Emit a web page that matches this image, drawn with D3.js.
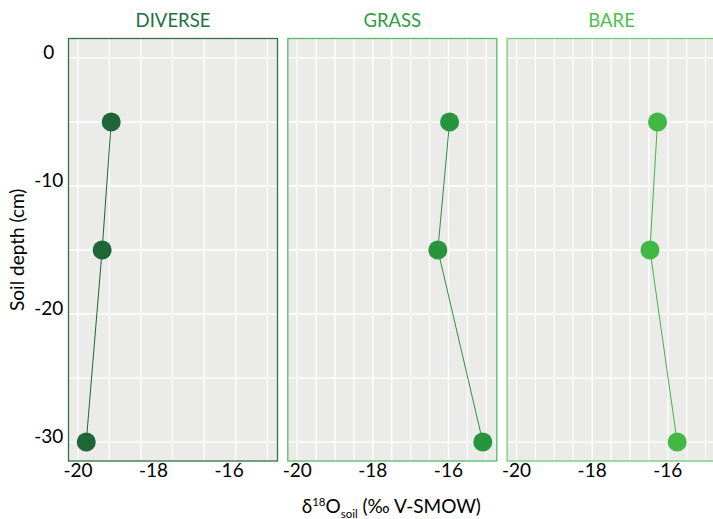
<!DOCTYPE html>
<html>
<head>
<meta charset="utf-8">
<script src="https://cdn.jsdelivr.net/npm/d3@7"></script>
<style>
  html, body { margin: 0; padding: 0; background: #ffffff; }
  svg { display: block; font-family: Lato, "Open Sans", sans-serif; }
</style>
</head>
<body>
<svg id="chart" width="713" height="519"></svg>
<script>
// ---- data ----
const categories = ["DIVERSE", "GRASS", "BARE"];
const depths = [-5, -15, -30];
const diverseValues = [-19.12, -19.36, -19.78];
const grassValues = [-15.97, -16.28, -15.09];
const bareValues = [-16.27, -16.47, -15.75];
const xTickValues = [-20, -18, -16];
const yTickValues = [0, -10, -20, -30];
const yGridValues = [0, -5, -10, -15, -20, -25, -30];
const xGridDiverse = [-20, -19.17, -18.33, -17.5, -16.66, -15.82, -14.99];
const xGridOther = [-20, -19.5, -19, -18.5, -18, -17.5, -17, -16.5, -16, -15.5, -15];
const xDomain = [-20.25, -14.72];
const yDomain = [1.52, -31.48];

// ---- styling ----
const pointColors = ["#1e6538", "#26953e", "#40b843"];
const titleColors = ["#23703f", "#2f9c45", "#4cbf4c"];
const borderColors = ["#2f7448", "#5cb864", "#74cb74"];
const panelBg = "#ebebea";

const svg = d3.select("#chart");
const panelLeft0 = 68.5, panelW = 209, panelGap = 10.3;
const panelTop = 38.5, panelBottom = 461;

const y = d3.scaleLinear().domain(yDomain).range([panelTop, panelBottom]);

const seriesList = [diverseValues, grassValues, bareValues];
const gridLists = [xGridDiverse, xGridOther, xGridOther];

categories.forEach((cat, i) => {
  const x0 = panelLeft0 + i * (panelW + panelGap);
  const x = d3.scaleLinear().domain(xDomain).range([x0, x0 + panelW]);
  const g = svg.append("g");

  g.append("rect")
    .attr("x", x0).attr("y", panelTop)
    .attr("width", panelW).attr("height", panelBottom - panelTop)
    .attr("fill", panelBg);

  // grid
  g.selectAll(".gx").data(gridLists[i]).enter().append("line")
    .attr("x1", d => x(d)).attr("x2", d => x(d))
    .attr("y1", panelTop).attr("y2", panelBottom)
    .attr("stroke", "#ffffff").attr("stroke-width", 1.3);
  g.selectAll(".gy").data(yGridValues).enter().append("line")
    .attr("x1", x0).attr("x2", x0 + panelW)
    .attr("y1", d => y(d)).attr("y2", d => y(d))
    .attr("stroke", "#ffffff").attr("stroke-width", 1.3);

  // border
  g.append("rect")
    .attr("x", x0).attr("y", panelTop)
    .attr("width", panelW).attr("height", panelBottom - panelTop)
    .attr("fill", "none").attr("stroke", borderColors[i]).attr("stroke-width", 1.3);

  // line + points
  const pts = depths.map((d, k) => ({ depth: d, val: seriesList[i][k] }));
  g.append("path")
    .datum(pts)
    .attr("fill", "none")
    .attr("stroke", pointColors[i])
    .attr("stroke-width", 1)
    .attr("d", d3.line().x(d => x(d.val)).y(d => y(d.depth)));
  g.selectAll(".pt").data(pts).enter().append("circle")
    .attr("cx", d => x(d.val)).attr("cy", d => y(d.depth))
    .attr("r", 9.5).attr("fill", pointColors[i]);

  // title
  g.append("text")
    .attr("x", x0 + panelW / 2).attr("y", 26.7)
    .attr("text-anchor", "middle")
    .attr("font-size", "18.5px")
    .attr("fill", titleColors[i])
    .text(cat);

  // x axis tick labels
  g.selectAll(".xt").data(xTickValues).enter().append("text")
    .attr("x", d => x(d)).attr("y", 477)
    .attr("text-anchor", "middle")
    .attr("font-size", "19px")
    .attr("fill", "#000")
    .text(d => d3.format("d")(d).replace("\u2212", "-"));
});

// y tick labels
svg.selectAll(".yt").data(yTickValues).enter().append("text")
  .attr("x", 48.8).attr("y", d => y(d) + 1)
  .attr("text-anchor", "middle")
  .attr("font-size", "19px")
  .attr("fill", "#000")
  .text(d => String(d));

// y axis title
svg.append("text")
  .attr("transform", "translate(24," + ((panelTop + panelBottom) / 2) + ") rotate(-90)")
  .attr("text-anchor", "middle")
  .attr("font-size", "19px")
  .attr("fill", "#000")
  .text("Soil depth (cm)");

// x axis title
const midX = panelLeft0 + (panelW + panelGap) + panelW / 2 - 1;
const xt = svg.append("text")
  .attr("x", midX).attr("y", 513)
  .attr("text-anchor", "middle")
  .attr("font-size", "19px")
  .attr("fill", "#000");
xt.append("tspan").text("δ");
xt.append("tspan").attr("font-size", "11.5px").attr("dy", -7).text("18");
xt.append("tspan").attr("dy", 7).text("O");
xt.append("tspan").attr("font-size", "11.5px").attr("dy", 5).text("soil");
xt.append("tspan").attr("dy", -5).text(" (‰ V-SMOW)");
</script>
</body>
</html>
